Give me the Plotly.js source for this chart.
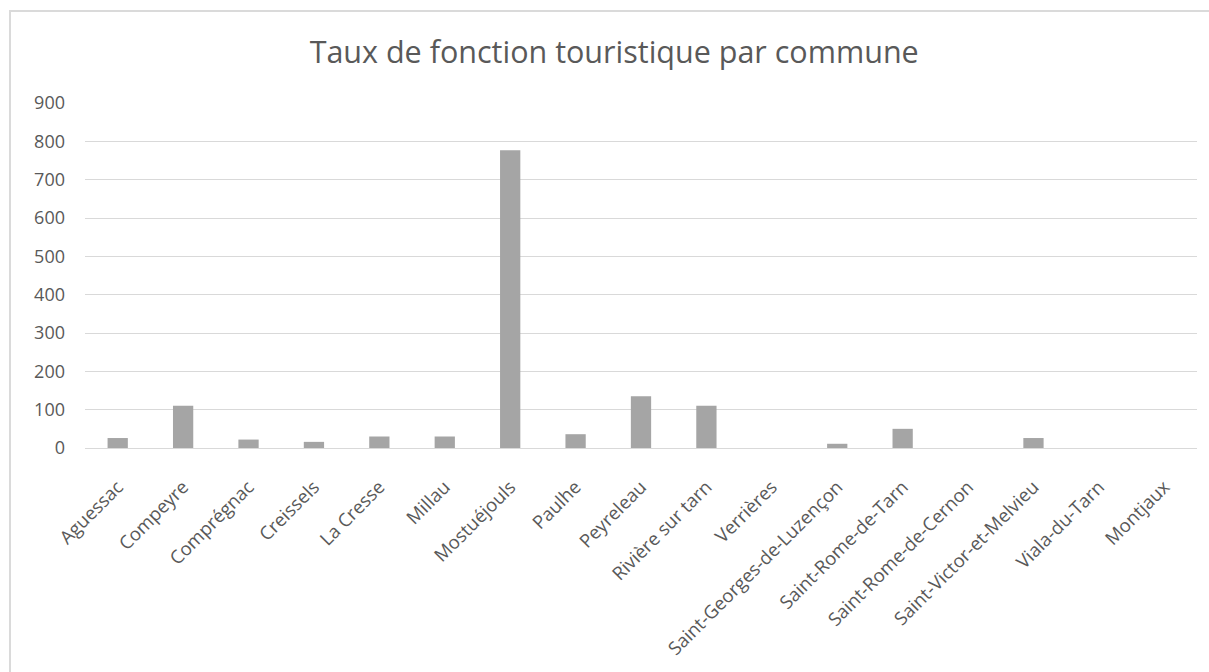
<!DOCTYPE html>
<html>
<head>
<meta charset="utf-8">
<script src="https://cdn.plot.ly/plotly-3.0.1.min.js"></script>
<style>
  html, body { margin: 0; padding: 0; background: #ffffff; }
  #frame { position: absolute; left: 9px; top: 10px; width: 1210px; height: 670px;
           border-left: 2px solid #dadada; border-top: 2px solid #dadada; }
  #chart { position: absolute; left: 0; top: 0; width: 1209px; height: 672px; }
</style>
</head>
<body>
<div id="frame"></div>
<div id="chart"></div>
<script>
const communes = [
  "Aguessac", "Compeyre", "Comprégnac", "Creissels", "La Cresse", "Millau",
  "Mostuéjouls", "Paulhe", "Peyreleau", "Rivière sur tarn", "Verrières",
  "Saint-Georges-de-Luzençon", "Saint-Rome-de-Tarn", "Saint-Rome-de-Cernon",
  "Saint-Victor-et-Melvieu", "Viala-du-Tarn", "Montjaux"
];
const tauxFonction = [26, 110, 22, 16, 30, 30, 777, 36, 135, 110, 0, 11, 50, 0, 26, 0, 0];
const yTicks = [0, 100, 200, 300, 400, 500, 600, 700, 800, 900];

const trace = {
  type: "bar",
  x: communes,
  y: tauxFonction,
  marker: { color: "#a5a5a5" },
  hoverinfo: "x+y"
};

const layout = {
  width: 1209,
  height: 672,
  margin: { l: 85, r: 12, t: 103, b: 224 },
  paper_bgcolor: "rgba(0,0,0,0)",
  plot_bgcolor: "rgba(0,0,0,0)",
  bargap: 0.69,
  showlegend: false,
  title: {
    text: "Taux de fonction touristique par commune",
    font: { family: "Open Sans, sans-serif", size: 30.5, color: "#595959" },
    x: 0.508, xanchor: "center",
    y: 0.922, yanchor: "middle"
  },
  font: { family: "Open Sans, sans-serif", color: "#595959" },
  xaxis: {
    type: "category",
    tickangle: -45,
    tickfont: { family: "Open Sans, sans-serif", size: 18.5, color: "#595959" },
    showgrid: false,
    showline: true,
    linecolor: "#d9d9d9",
    linewidth: 1,
    ticks: "",
    zeroline: false,
    ticklabelstandoff: 20
  },
  yaxis: {
    range: [0, 900],
    tickvals: yTicks,
    ticktext: yTicks.map(String),
    tickfont: { family: "Open Sans, sans-serif", size: 18, color: "#595959" },
    showgrid: true,
    gridcolor: "#d9d9d9",
    gridwidth: 1,
    zeroline: false,
    showline: false,
    ticks: "",
    ticklabelstandoff: 19
  }
};

Plotly.newPlot("chart", [trace], layout, { displayModeBar: false, staticPlot: true });
</script>
</body>
</html>
